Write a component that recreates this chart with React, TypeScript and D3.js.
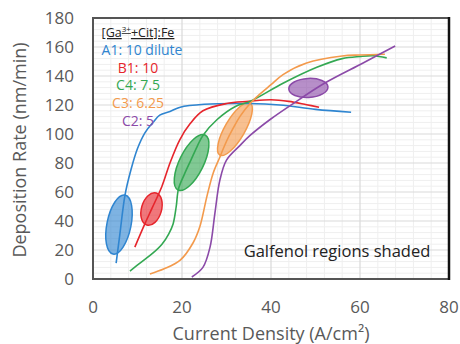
import React from "react";
import * as d3 from "d3";

const xTicks = [0, 20, 40, 60, 80];
const yTicks = [0, 20, 40, 60, 80, 100, 120, 140, 160, 180];

const seriesNames = ["A1: 10 dilute", "B1: 10", "C4: 7.5", "C3: 6.25", "C2: 5"];
const seriesColors = ["#2f85d0", "#e6252c", "#33a852", "#f39a4c", "#8b4aa8"];

const a1: [number, number][] = [
  [5.2, 11], [6, 30], [7.2, 58], [8.5, 75], [10, 90], [11.7, 101], [13.5, 108], [15, 113],
  [17.3, 115.5], [19.6, 118.5], [25, 120.5], [35, 121], [42, 120], [50, 117], [58, 115],
];
const b1: [number, number][] = [
  [9.4, 22], [11.5, 37], [13.3, 49], [15.5, 64], [17.3, 80], [19.5, 96], [21.8, 107],
  [24.7, 116], [30, 121], [35, 122.5], [40, 123.6], [44, 122.5], [48, 120.2], [50.8, 118.5],
];
const c4: [number, number][] = [
  [8.3, 5.5], [11, 12], [13.5, 18], [15.5, 24], [17, 31], [18, 38], [18.7, 50], [19.2, 62],
  [20.5, 72], [22, 82], [23.5, 92], [24.7, 99], [27.9, 110], [32, 119], [35.3, 122.5],
  [42.7, 135], [50.3, 146], [56, 152], [60, 153.5], [63, 154], [66, 152.5],
];
const c3: [number, number][] = [
  [12.8, 3.5], [16, 7], [19.6, 13], [22.5, 25], [24, 36], [25.6, 57], [27, 73], [28.5, 84],
  [30, 95], [31.5, 104], [33, 112], [35.3, 121], [37.5, 127.5], [40, 134], [42.7, 141],
  [48, 149], [56, 153.8], [60, 154.5], [65.6, 155],
];
const c2: [number, number][] = [
  [22.2, 1.4], [24.7, 8], [26.3, 22], [27.4, 45.5], [28.5, 68], [30, 82], [33, 92],
  [35.3, 99], [39.8, 110], [45, 121], [52, 135], [60.7, 149], [67.9, 160.7],
];
const seriesData = [a1, b1, c4, c3, c2];

// Galfenol regions: major-axis end points in data units [x1, y1, x2, y2]
const regionAxes: [number, number, number, number][] = [
  [4.49, 17.2, 7.19, 57.9],
  [12.1, 37.2, 14.2, 59.3],
  [19.1, 61.4, 25.2, 99.3],
  [28.5, 85.5, 35.3, 121.4],
  [44.0, 131.0, 52.8, 132.5],
];
// half-width of each region across its major axis, in data units of y
const regionHalfWidths = [8.3, 6.9, 8.3, 6.9, 6.6];

const W = 460;
const H = 344;
const left = 93, right = 449, top = 18, bottom = 279;

export default function App() {
  const x = d3.scaleLinear().domain([0, 80]).range([left, right]);
  const y = d3.scaleLinear().domain([0, 180]).range([bottom, top]);
  const line = d3
    .line<[number, number]>()
    .x((d) => x(d[0]))
    .y((d) => y(d[1]))
    .curve(d3.curveCatmullRom.alpha(0.5));

  const minorX = d3.range(0, 81, 4).filter((v) => v % 20 !== 0);
  const minorY = d3.range(0, 181, 4).filter((v) => v % 20 !== 0);
  const pxPerY = (bottom - top) / 180;

  const font = "'Open Sans', 'Noto Sans', sans-serif";
  const gray = "#595959";

  return (
    <svg width={W} height={H} style={{ position: "absolute", left: 0, top: 0, background: "#fff" }}>
      <rect x={0} y={0} width={W} height={H} fill="#fff" />
      {/* minor grid */}
      {minorX.map((v) => (
        <line key={"mx" + v} x1={x(v)} x2={x(v)} y1={top} y2={bottom} stroke="#efefef" strokeWidth={1} />
      ))}
      {minorY.map((v) => (
        <line key={"my" + v} x1={left} x2={right} y1={y(v)} y2={y(v)} stroke="#efefef" strokeWidth={1} />
      ))}
      {/* major grid */}
      {xTicks.map((v) => (
        <line key={"gx" + v} x1={x(v)} x2={x(v)} y1={top} y2={bottom} stroke="#d9d9d9" strokeWidth={1.2} />
      ))}
      {yTicks.map((v) => (
        <line key={"gy" + v} x1={left} x2={right} y1={y(v)} y2={y(v)} stroke="#d9d9d9" strokeWidth={1.2} />
      ))}

      {/* galfenol regions */}
      {regionAxes.map((r, i) => {
        const x1 = x(r[0]), y1 = y(r[1]), x2 = x(r[2]), y2 = y(r[3]);
        const cx = (x1 + x2) / 2, cy = (y1 + y2) / 2;
        const len = Math.hypot(x2 - x1, y2 - y1) / 2;
        const ang = (Math.atan2(y2 - y1, x2 - x1) * 180) / Math.PI;
        return (
          <ellipse
            key={"e" + i}
            cx={cx}
            cy={cy}
            rx={len}
            ry={regionHalfWidths[i] * pxPerY}
            transform={`rotate(${ang} ${cx} ${cy})`}
            fill={seriesColors[i]}
            fillOpacity={0.62}
            stroke={seriesColors[i]}
            strokeWidth={1.5}
          />
        );
      })}

      {/* curves */}
      {seriesData.map((s, i) => (
        <path key={"l" + i} d={line(s) || ""} fill="none" stroke={seriesColors[i]} strokeWidth={1.6} />
      ))}

      {/* frame */}
      <rect x={left} y={top} width={right - left} height={bottom - top} fill="none" stroke="#555" strokeWidth={2} />
      <line x1={right} x2={right} y1={top - 1} y2={bottom + 1} stroke="#111" strokeWidth={2.5} />

      {/* tick labels */}
      {xTicks.map((v) => (
        <text key={"tx" + v} x={x(v)} y={313} textAnchor="middle" fontFamily={font} fontSize={17} fill={gray}>
          {v}
        </text>
      ))}
      {yTicks.map((v) => (
        <text key={"ty" + v} x={74} y={y(v) + 6} textAnchor="end" fontFamily={font} fontSize={17} fill={gray}>
          {v}
        </text>
      ))}

      {/* axis titles */}
      <text x={271} y={340} textAnchor="middle" fontFamily={font} fontSize={18} fill={gray}>
        Current Density (A/cm²)
      </text>
      <text
        transform={`translate(26, 150) rotate(-90)`}
        textAnchor="middle"
        fontFamily={font}
        fontSize={18}
        fill={gray}
      >
        Deposition Rate (nm/min)
      </text>

      {/* legend annotation */}
      <text x={138} y={37} textAnchor="middle" fontFamily={font} fontSize={12.5} fill="#222" textDecoration="underline">
        [Ga<tspan dy={-5} fontSize={8}>3+</tspan>
        <tspan dy={5}>+Cit]:Fe</tspan>
      </text>
      {seriesNames.map((n, i) => (
        <text
          key={"n" + i}
          x={i === 0 ? 142 : 138}
          y={55 + i * 17.7}
          textAnchor="middle"
          fontFamily={font}
          fontSize={14}
          fill={seriesColors[i]}
        >
          {n}
        </text>
      ))}

      <text x={337} y={257} textAnchor="middle" fontFamily={font} fontSize={16.5} fill="#222">
        Galfenol regions shaded
      </text>
    </svg>
  );
}
